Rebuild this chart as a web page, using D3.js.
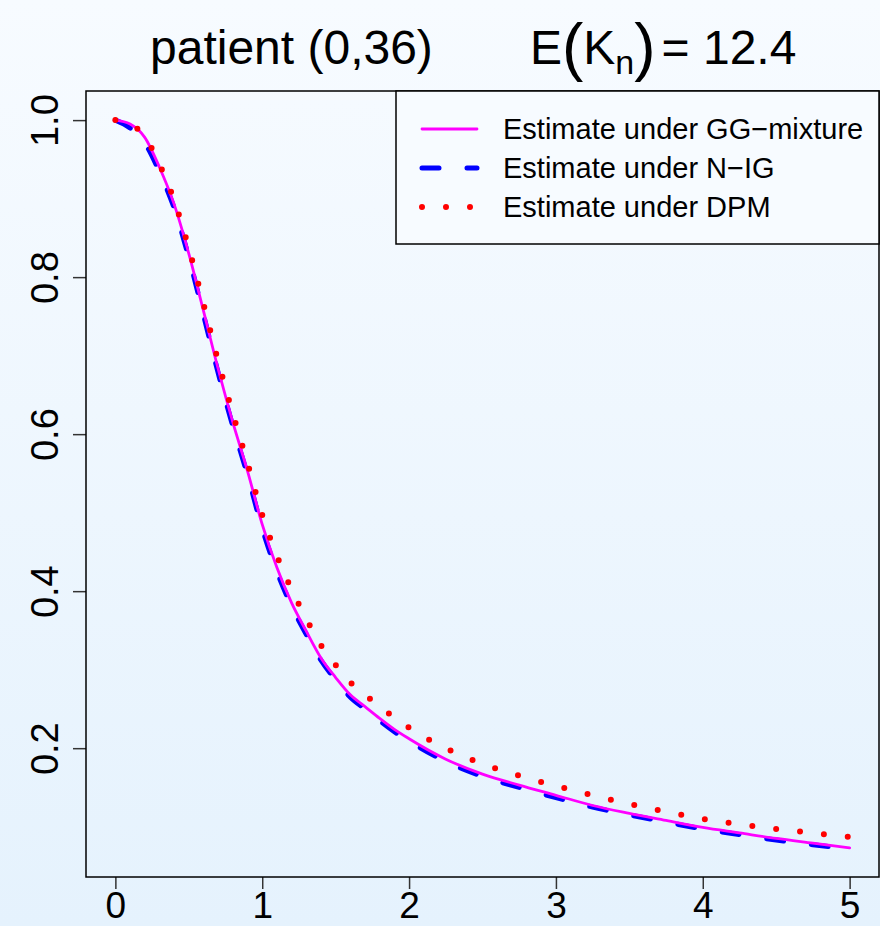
<!DOCTYPE html>
<html>
<head>
<meta charset="utf-8">
<script src="https://cdn.jsdelivr.net/npm/d3@7"></script>
<style>
  body { margin: 0; }
  svg { display: block; }
  text { font-family: "Liberation Sans", Arial, sans-serif; fill: #000; }
</style>
</head>
<body>
<svg width="880" height="926"></svg>
<script>
// time grid (x) and the three estimated curves
const xs = [0, 0.1, 0.2, 0.3, 0.4, 0.5, 0.6, 0.7, 0.8, 0.9, 1.0,
    1.1, 1.2, 1.3, 1.4, 1.5, 1.6, 1.7, 1.8, 1.9, 2.0,
    2.25, 2.5, 2.75, 3.0, 3.25, 3.5, 3.75, 4.0, 4.25, 4.5, 4.75, 5.0];
const ggMixture = [1.000, 0.995, 0.978, 0.940, 0.893, 0.830, 0.757, 0.683, 0.615, 0.553, 0.485,
    0.430, 0.385, 0.349, 0.315, 0.290, 0.268, 0.253, 0.238, 0.224, 0.212,
    0.186, 0.167, 0.153, 0.140, 0.127, 0.117, 0.108, 0.099, 0.092, 0.085, 0.079, 0.073];
const nIG = [1.000, 0.990, 0.971, 0.934, 0.888, 0.825, 0.752, 0.678, 0.610, 0.548, 0.480,
    0.425, 0.381, 0.345, 0.312, 0.287, 0.265, 0.250, 0.235, 0.221, 0.209,
    0.183, 0.164, 0.150, 0.137, 0.125, 0.115, 0.106, 0.097, 0.090, 0.083, 0.077, 0.072];
const dpm = [1.000, 0.995, 0.979, 0.944, 0.898, 0.837, 0.766, 0.693, 0.626, 0.563, 0.497,
    0.445, 0.402, 0.365, 0.331, 0.306, 0.284, 0.268, 0.253, 0.239, 0.226,
    0.200, 0.180, 0.165, 0.152, 0.140, 0.129, 0.119, 0.110, 0.103, 0.097, 0.092, 0.087];

const xTicks = [0, 1, 2, 3, 4, 5];
const yTicks = [0.2, 0.4, 0.6, 0.8, 1.0];
const legendLabels = ['Estimate under GG\u2212mixture', 'Estimate under N\u2212IG', 'Estimate under DPM'];

const svg = d3.select('svg');
const width = +svg.attr('width');
const height = +svg.attr('height');

// page background: soft vertical gradient
const grad = svg.append('defs').append('linearGradient')
    .attr('id', 'bg').attr('x1', 0).attr('y1', 0).attr('x2', 0).attr('y2', 1);
grad.append('stop').attr('offset', '0%').attr('stop-color', '#f7fbff');
grad.append('stop').attr('offset', '100%').attr('stop-color', '#e5f2fd');
svg.append('rect').attr('width', width).attr('height', height).attr('fill', 'url(#bg)');

const plot = { left: 86, right: 879, top: 91, bottom: 877 };

// R-style 4% axis extension
const xScale = d3.scaleLinear().domain([-0.2, 5.2]).range([plot.left, plot.right]);
const yMin = 0.073, yMax = 1.0, pad = (yMax - yMin) * 0.04;
const yScale = d3.scaleLinear().domain([yMin - pad, yMax + pad]).range([plot.bottom, plot.top]);

const line = d3.line()
    .x(d => xScale(d[0]))
    .y(d => yScale(d[1]))
    .curve(d3.curveMonotoneX);

const zip = ys => xs.map((x, i) => [x, ys[i]]);

const series = [
    { name: 'nig', values: nIG, color: '#0000ff', width: 5, dash: '17,28' },
    { name: 'gg', values: ggMixture, color: '#ff00ff', width: 2.8, dash: null },
    { name: 'dpm', values: dpm, color: '#ff0000', width: 6, dash: '0,24' }
];

const g = svg.append('g');
series.forEach(s => {
    g.append('path')
        .attr('d', line(zip(s.values)))
        .attr('fill', 'none')
        .attr('stroke', s.color)
        .attr('stroke-width', s.width)
        .attr('stroke-linecap', 'round')
        .attr('stroke-dasharray', s.dash);
});

// axes
const xAxisG = svg.append('g')
    .attr('transform', `translate(0, ${plot.bottom})`)
    .call(d3.axisBottom(xScale).tickValues(xTicks).tickSize(12).tickFormat(d3.format('d')));
xAxisG.select('.domain').remove();
xAxisG.selectAll('line').attr('stroke', '#333').attr('stroke-width', 1.5);
xAxisG.selectAll('text')
    .attr('font-size', 37).attr('fill', '#000')
    .attr('font-family', '"Liberation Sans", Arial, sans-serif')
    .attr('y', 41).attr('dy', null);

const yAxisG = svg.append('g')
    .attr('transform', `translate(${plot.left}, 0)`)
    .call(d3.axisLeft(yScale).tickValues(yTicks).tickSize(13).tickFormat(d3.format('.1f')));
yAxisG.select('.domain').remove();
yAxisG.selectAll('line').attr('stroke', '#333').attr('stroke-width', 1.5);
yAxisG.selectAll('text')
    .attr('font-size', 38).attr('fill', '#000')
    .attr('font-family', '"Liberation Sans", Arial, sans-serif')
    .attr('x', null).attr('dy', null)
    .attr('text-anchor', 'middle')
    .attr('transform', 'translate(-28, 0) rotate(-90)');

// plot box
svg.append('rect')
    .attr('x', plot.left).attr('y', plot.top)
    .attr('width', plot.right - plot.left).attr('height', plot.bottom - plot.top)
    .attr('fill', 'none').attr('stroke', '#000').attr('stroke-width', 1.5);

// legend
const legend = svg.append('g');
legend.append('rect')
    .attr('x', 396).attr('y', plot.top)
    .attr('width', plot.right - 396).attr('height', 244 - plot.top)
    .attr('fill', '#f7fbff').attr('stroke', '#000').attr('stroke-width', 1.5);
const legendOrder = [series[1], series[0], series[2]];
legendOrder.forEach((s, i) => {
    const cy = 129 + i * 39;
    legend.append('line')
        .attr('x1', 422).attr('x2', 477).attr('y1', cy).attr('y2', cy)
        .attr('stroke', s.color).attr('stroke-width', s.width)
        .attr('stroke-linecap', 'round')
        .attr('stroke-dasharray', s.dash);
    legend.append('text')
        .attr('x', 503).attr('y', cy + 10)
        .attr('font-size', 29)
        .text(legendLabels[i]);
});

// title: patient (0,36)   E(K_n) = 12.4
svg.append('text')
    .attr('x', 150).attr('y', 64)
    .attr('font-size', 48)
    .text('patient (0,36)');
const t2 = svg.append('text').attr('x', 530).attr('y', 64).attr('font-size', 48);
t2.append('tspan').text('E');
t2.append('tspan').attr('font-size', 64).attr('dy', 5).text('(');
t2.append('tspan').attr('dy', -5).text('K');
t2.append('tspan').attr('font-size', 34).attr('dy', 10).text('n');
t2.append('tspan').attr('font-size', 64).attr('dy', -5).text(')');
t2.append('tspan').attr('dy', -5).attr('dx', 6).text('= 12.4');
</script>
</body>
</html>
